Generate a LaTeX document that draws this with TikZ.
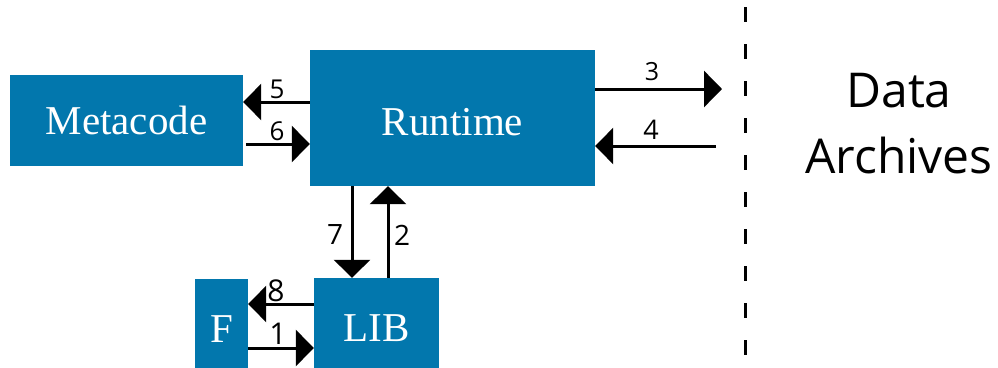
\documentclass[tikz,border=0pt]{standalone}
\usepackage{fontspec}
\setmainfont{Liberation Serif}
\newfontfamily\labelfont{Open Sans}
\usetikzlibrary{arrows.meta}
\definecolor{boxblue}{RGB}{2,119,173}
\begin{document}
\begin{tikzpicture}[x=1pt,y=-1pt,
  block/.style={draw=none,fill=boxblue,text=white,inner sep=0pt,
    font=\fontsize{41}{45}\selectfont},
  flow/.style={line width=3pt,-{Triangle[length=18pt,width=36pt]}},
  num/.style={font=\labelfont\fontsize{#1}{#1}\selectfont,inner sep=0pt},
  archtext/.style={font=\labelfont\fontsize{48}{66}\selectfont,inner sep=0pt,anchor=base}]
\useasboundingbox (0,0) rectangle (998,367);
\begin{scope}
\clip (0,0) rectangle (998,367);
% processing blocks
\node[block,minimum width=233pt,minimum height=91pt] (meta) at (126.5,120.5) {Metacode};
\node[block,minimum width=285pt,minimum height=136pt,text height=36pt] (run) at (452.5,118) {Runtime};
\node[block,minimum width=125pt,minimum height=100pt] (lib) at (376.5,328) {LIB};
\node[block,minimum width=53pt,minimum height=100pt] (f) at (221.5,329) {F};
\end{scope}
% archive boundary
\coordinate (bt) at (745,7);
\coordinate (bb) at (745,367);
\draw[line width=3pt,dash pattern=on 15pt off 22pt] (bt) -- (bb);
\coordinate (out3) at (722,89);
\coordinate (in4) at (716,146);
\node[archtext] (arch1) at (899,107) {Data};
\node[archtext] (arch2) at (899,173) {Archives};
% data flows
\draw[flow] (run.west |- 0,102) -- (meta.east |- 0,102);
\draw[flow] (meta.east |- 0,144) ++(3,0) -- (run.west |- 0,144);
\draw[flow] (run.east |- out3) -- (out3);
\draw[flow] (in4) -- (run.east |- in4);
\draw[flow] (run.south -| 352,0) -- (lib.north -| 352,0);
\draw[flow] (lib.north -| 388,0) -- (run.south -| 388,0);
\draw[flow] (lib.west |- 0,304) -- (f.east |- 0,304);
\draw[flow] (f.east |- 0,348) -- (lib.west |- 0,348);
% flow numbers
\node[num=26] (n5) at (277,89) {5};
\node[num=26] (n6) at (277,131) {6};
\node[num=25] (n3) at (652,72) {3};
\node[num=27] (n4) at (651,130) {4};
\node[num=28] (n7) at (335,235) {7};
\node[num=28] (n2) at (402,235) {2};
\node[num=30] (n8) at (276,291) {8};
\node[num=30] (n1) at (278,334) {1};
\end{tikzpicture}
\end{document}
